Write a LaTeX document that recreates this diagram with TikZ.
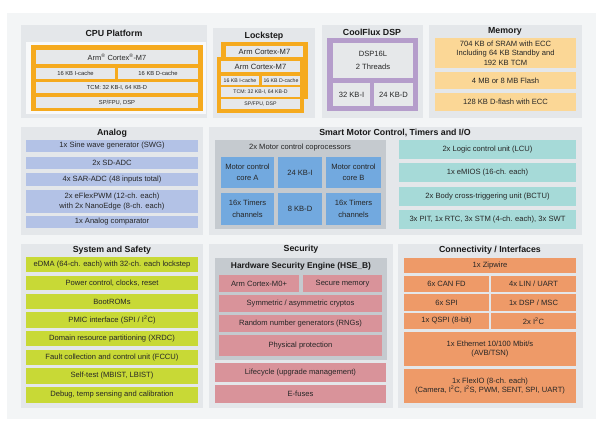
\documentclass[tikz,border=0pt]{standalone}
\usepackage{fontspec}
\setmainfont{Liberation Sans}
\definecolor{outerbg}{HTML}{F3F5F6}
\definecolor{panel}{HTML}{E4E7EA}
\definecolor{cpuor}{HTML}{F5AA1E}
\definecolor{rowgray}{HTML}{E6E8EA}
\definecolor{cpuwhite}{HTML}{F8F9FA}
\definecolor{memor}{HTML}{FBD796}
\definecolor{purp}{HTML}{B59DCB}
\definecolor{anablue}{HTML}{B3C2E6}
\definecolor{cogray}{HTML}{C5CACF}
\definecolor{mcblue}{HTML}{72A9DF}
\definecolor{teal}{HTML}{A6DAD8}
\definecolor{lime}{HTML}{C8D936}
\definecolor{pinkr}{HTML}{D9939A}
\definecolor{conor}{HTML}{EE9A68}
\tikzset{
  blkbase/.style={inner sep=0pt, outer sep=0pt, align=center, text=black!85, font=\fontsize{7.6}{9.3}\selectfont},
  tinytxt/.style={font=\fontsize{5.8}{6.6}\selectfont},
  tinier/.style={font=\fontsize{5.2}{6}\selectfont},
  subtxt/.style={font=\fontsize{7.4}{8.4}\selectfont},
  widelines/.style={font=\fontsize{7.6}{11.5}\selectfont},
  headtxt/.style={inner sep=0pt, font=\bfseries\fontsize{8.8}{10}\selectfont, text=black!90},
}
% #1 options, #2 name, #3 x1, #4 y1, #5 x2, #6 y2, #7 text
\newcommand\blk[7][]{%
  \pgfmathsetmacro\bkw{#5-#3}\pgfmathsetmacro\bkh{#6-#4}%
  \node[blkbase,#1,minimum width=\bkw pt,minimum height=\bkh pt,anchor=north west] (#2) at (#3,#4) {#7};}
\begin{document}
\begin{tikzpicture}[x=1pt,y=-1pt]
\useasboundingbox[fill=white] (0,0) rectangle (600,425);
\blk[fill=outerbg]{outer}{7}{13}{596}{419}{}
% ===== CPU Platform =====
\blk[fill=panel]{cpupanel}{21}{25}{207}{118}{}
\node[headtxt] (cputitle) at (114,33) {CPU Platform};
\blk[fill=cpuwhite]{cpuwhite}{26}{42}{206}{114}{}
\blk[fill=cpuor]{cpubox}{31}{45}{203}{111}{}
\blk[fill=rowgray,subtxt]{cpum7}{36}{50}{198}{64}{Arm\textsuperscript{\tiny\textregistered} Cortex\textsuperscript{\tiny\textregistered}-M7}
\blk[fill=rowgray,tinytxt]{cpuic}{36}{68}{115}{79}{16 KB I-cache}
\blk[fill=rowgray,tinytxt]{cpudc}{118}{68}{198}{79}{16 KB D-cache}
\blk[fill=rowgray,tinytxt]{cputcm}{36}{82}{198}{93}{TCM: 32 KB-I, 64 KB-D}
\blk[fill=rowgray,tinytxt]{cpufpu}{36}{97}{198}{108}{SP/FPU, DSP}
% ===== Lockstep =====
\blk[fill=panel]{lspanel}{213}{28}{315}{118}{}
\node[headtxt] (lstitle) at (264,36) {Lockstep};
\blk[fill=cpuor]{lsback}{221}{42}{308}{99}{}
\blk[fill=rowgray]{lsbackm7}{226}{46}{303}{57}{Arm Cortex-M7}
\blk[fill=cpuor]{lsfront}{217}{57}{304}{113}{}
\blk[fill=rowgray]{lsm7}{221}{61}{300}{72}{Arm Cortex-M7}
\blk[fill=rowgray,tinier]{lsic}{221}{76}{259}{85}{16 KB I-cache}
\blk[fill=rowgray,tinier]{lsdc}{262}{76}{300}{85}{16 KB D-cache}
\blk[fill=rowgray,tinier]{lstcm}{221}{87}{300}{97}{TCM: 32 KB-I, 64 KB-D}
\blk[fill=rowgray,tinier]{lsfpu}{221}{99}{300}{109}{SP/FPU, DSP}
% ===== CoolFlux DSP =====
\blk[fill=panel]{cfpanel}{322}{25}{423}{118}{}
\node[headtxt] (cftitle) at (372,32) {CoolFlux DSP};
\blk[fill=purp]{cfbox}{327}{38}{418}{111}{}
\blk[fill=rowgray,font=\fontsize{7.6}{12.5}\selectfont]{cfdsp}{333}{43}{413}{78}{DSP16L\\2 Threads}
\blk[fill=rowgray]{cfki}{333}{83}{370}{106}{32 KB-I}
\blk[fill=rowgray]{cfkd}{374}{83}{413}{106}{24 KB-D}
% ===== Memory =====
\blk[fill=panel]{mempanel}{429}{25}{582}{118}{}
\node[headtxt] (memtitle) at (505,31) {Memory};
\blk[fill=memor]{memsram}{435}{38}{576}{68}{704 KB of SRAM with ECC\\Including 64 KB Standby and\\192 KB TCM}
\blk[fill=memor]{memflash}{435}{72}{576}{89}{4 MB or 8 MB Flash}
\blk[fill=memor]{memdflash}{435}{93}{576}{111}{128 KB D-flash with ECC}
% ===== Analog =====
\blk[fill=panel]{anpanel}{21}{127}{203}{235}{}
\node[headtxt] (antitle) at (112,133) {Analog};
\blk[fill=anablue]{answg}{26}{140}{198}{152}{1x Sine wave generator (SWG)}
\blk[fill=anablue]{ansd}{26}{157}{198}{169}{2x SD-ADC}
\blk[fill=anablue]{ansar}{26}{173}{198}{186}{4x SAR-ADC (48 inputs total)}
\blk[fill=anablue]{anpwm}{26}{190}{198}{213}{2x eFlexPWM (12-ch. each)\\with 2x NanoEdge (8-ch. each)}
\blk[fill=anablue]{ancmp}{26}{216}{198}{228}{1x Analog comparator}
% ===== Smart Motor Control =====
\blk[fill=panel]{smpanel}{209}{127}{582}{235}{}
\node[headtxt] (smtitle) at (395,133) {Smart Motor Control, Timers and I/O};
\blk[fill=cogray]{smco}{215}{140}{386}{229}{}
\node[blkbase] (smcotitle) at (300,148) {2x Motor control coprocessors};
\blk[fill=mcblue,widelines]{smcorea}{221}{157}{274}{188}{Motor control\\core A}
\blk[fill=mcblue]{smki}{278}{157}{322}{188}{24 KB-I}
\blk[fill=mcblue,widelines]{smcoreb}{326}{157}{381}{188}{Motor control\\core B}
\blk[fill=mcblue,widelines]{smtima}{221}{193}{274}{225}{16x Timers\\channels}
\blk[fill=mcblue]{smkd}{278}{193}{322}{225}{8 KB-D}
\blk[fill=mcblue,widelines]{smtimb}{326}{193}{381}{225}{16x Timers\\channels}
\blk[fill=teal]{smlcu}{399}{140}{576}{159}{2x Logic control unit (LCU)}
\blk[fill=teal]{smemios}{399}{163}{576}{182}{1x eMIOS (16-ch. each)}
\blk[fill=teal]{smbctu}{399}{187}{576}{206}{2x Body cross-triggering unit (BCTU)}
\blk[fill=teal]{smpit}{399}{210}{576}{229}{3x PIT, 1x RTC, 3x STM (4-ch. each), 3x SWT}
% ===== System and Safety =====
\blk[fill=panel]{sspanel}{21}{244}{203}{408}{}
\node[headtxt] (sstitle) at (112,250) {System and Safety};
\blk[fill=lime]{ssdma}{26}{257}{198}{272}{eDMA (64-ch. each) with 32-ch. each lockstep}
\blk[fill=lime]{sspow}{26}{276}{198}{290}{Power control, clocks, reset}
\blk[fill=lime]{ssboot}{26}{294}{198}{309}{BootROMs}
\blk[fill=lime]{sspmic}{26}{312}{198}{328}{PMIC interface (SPI / I\textsuperscript{2}C)}
\blk[fill=lime]{ssxrdc}{26}{331}{198}{346}{Domain resource partitioning (XRDC)}
\blk[fill=lime]{ssfccu}{26}{350}{198}{365}{Fault collection and control unit (FCCU)}
\blk[fill=lime]{ssbist}{26}{368}{198}{384}{Self-test (MBIST, LBIST)}
\blk[fill=lime]{ssdbg}{26}{387}{198}{403}{Debug, temp sensing and calibration}
% ===== Security =====
\blk[fill=panel]{secpanel}{209}{244}{393}{408}{}
\node[headtxt] (sectitle) at (301,249) {Security};
\blk[fill=cogray]{sechse}{215}{258}{387}{360}{}
\node[headtxt,font=\bfseries\fontsize{8.4}{9}\selectfont] (sechsetitle) at (301,266) {Hardware Security Engine (HSE\_B)};
\blk[fill=pinkr]{secm0}{219}{275}{299}{292}{Arm Cortex-M0+}
\blk[fill=pinkr]{secmem}{303}{275}{382}{292}{Secure memory}
\blk[fill=pinkr]{seccry}{219}{295}{382}{312}{Symmetric / asymmetric cryptos}
\blk[fill=pinkr]{secrng}{219}{315}{382}{332}{Random number generators (RNGs)}
\blk[fill=pinkr]{secphy}{219}{335}{382}{356}{Physical protection}
\blk[fill=pinkr]{seclife}{215}{363}{386}{382}{Lifecycle (upgrade management)}
\blk[fill=pinkr]{secfuse}{215}{385}{386}{403}{E-fuses}
% ===== Connectivity =====
\blk[fill=panel]{conpanel}{398}{244}{583}{408}{}
\node[headtxt] (contitle) at (490,250) {Connectivity / Interfaces};
\blk[fill=conor]{conzip}{404}{258}{576}{273}{1x Zipwire}
\blk[fill=conor]{concan}{404}{276}{489}{292}{6x CAN FD}
\blk[fill=conor]{conlin}{491}{276}{576}{292}{4x LIN / UART}
\blk[fill=conor]{conspi}{404}{294}{489}{311}{6x SPI}
\blk[fill=conor]{condsp}{491}{294}{576}{311}{1x DSP / MSC}
\blk[fill=conor]{conqspi}{404}{313}{489}{329}{1x QSPI (8-bit)}
\blk[fill=conor]{coniic}{491}{313}{576}{329}{2x I\textsuperscript{2}C}
\blk[fill=conor]{coneth}{404}{332}{576}{366}{1x Ethernet 10/100 Mbit/s\\(AVB/TSN)}
\blk[fill=conor]{conflex}{404}{369}{576}{403}{1x FlexIO (8-ch. each)\\(Camera, I\textsuperscript{2}C, I\textsuperscript{2}S, PWM, SENT, SPI, UART)}
\end{tikzpicture}
\end{document}
